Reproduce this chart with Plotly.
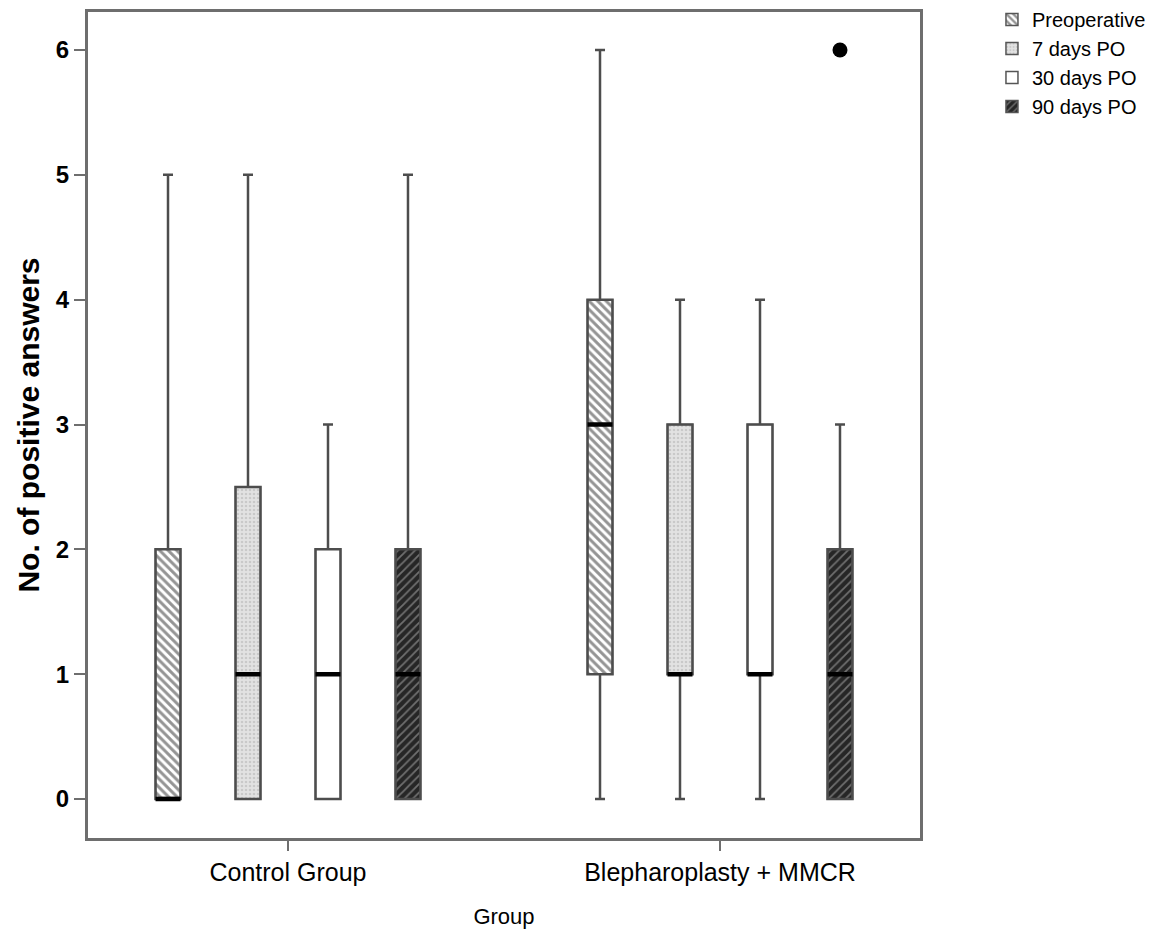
import plotly.graph_objects as go

groups = ["Control Group", "Blepharoplasty + MMCR"]
series = ["Preoperative", "7 days PO", "30 days PO", "90 days PO"]

lower = {"Preoperative": [0, 0], "7 days PO": [0, 0], "30 days PO": [0, 0], "90 days PO": [0, 0]}
q1 = {"Preoperative": [0, 1], "7 days PO": [0, 1], "30 days PO": [0, 1], "90 days PO": [0, 0]}
median = {"Preoperative": [0, 3], "7 days PO": [1, 1], "30 days PO": [1, 1], "90 days PO": [1, 1]}
q3 = {"Preoperative": [2, 4], "7 days PO": [2.5, 3], "30 days PO": [2, 3], "90 days PO": [2, 2]}
upper = {"Preoperative": [5, 6], "7 days PO": [5, 4], "30 days PO": [3, 4], "90 days PO": [5, 3]}
outliers = {"Preoperative": [[None], [None]], "7 days PO": [[None], [None]],
            "30 days PO": [[None], [None]], "90 days PO": [[None], [6]]}

styles = {
    "Preoperative": dict(color="white", shape="\\", fg="#2a2a2a", size=6, sol=0.5),
    "7 days PO": dict(color="#e2e2e2", shape=".", fg="#b0b0b0", size=4, sol=0.3),
    "30 days PO": dict(color="white", shape="", fg="white", size=6, sol=0.3),
    "90 days PO": dict(color="#262626", shape="/", fg="#b8b8b8", size=6, sol=0.3),
}

FONT = "Arial, Liberation Sans, sans-serif"
fig = go.Figure()

# patterned box bodies (also used for the legend)
for s in series:
    st = styles[s]
    fig.add_trace(go.Bar(
        x=groups, base=q1[s], y=[b - a for a, b in zip(q1[s], q3[s])],
        name=s, offsetgroup=s,
        marker=dict(color=st["color"], line=dict(width=1.5, color="#555555"),
                    pattern=dict(shape=st["shape"], fgcolor=st["fg"], bgcolor=st["color"],
                                 size=st["size"], solidity=st["sol"])),
        hoverinfo="skip", showlegend=True,
    ))

# box outlines, whiskers, outliers
for s in series:
    fig.add_trace(go.Box(
        x=groups, q1=q1[s], median=median[s], q3=q3[s],
        lowerfence=lower[s], upperfence=upper[s],
        y=outliers[s], boxpoints="outliers",
        name=s, offsetgroup=s, showlegend=False,
        fillcolor="rgba(0,0,0,0)",
        line=dict(color="#4d4d4d", width=2.5),
        whiskerwidth=0.4,
        marker=dict(color="black", size=15, symbol="circle"),
    ))

# thick black median lines on top
for s in series:
    fig.add_trace(go.Box(
        x=groups, q1=median[s], median=median[s], q3=median[s],
        lowerfence=median[s], upperfence=median[s],
        boxpoints=False, offsetgroup=s, showlegend=False, name=s + " median",
        fillcolor="rgba(0,0,0,0)", line=dict(color="black", width=4.5),
        whiskerwidth=0, hoverinfo="skip",
    ))

fig.update_layout(
    width=1148, height=921,
    margin=dict(l=80, r=236, t=4, b=91, autoexpand=False),
    paper_bgcolor="white", plot_bgcolor="white",
    barmode="group", bargap=0.2593, bargroupgap=0.6875,
    boxmode="group", boxgap=0.2593, boxgroupgap=0.6875,
    font=dict(family=FONT, color="black"),
    legend=dict(x=1.0865, y=1.0145, xanchor="left", yanchor="top",
                font=dict(size=20, family=FONT), tracegroupgap=0,
                itemwidth=30, bgcolor="rgba(0,0,0,0)"),
    xaxis=dict(type="category", range=[-0.46296, 1.46296],
               showline=True, mirror=True, linecolor="#6e6e6e", linewidth=3,
               ticks="outside", ticklen=10, tickcolor="#6e6e6e", tickwidth=2,
               tickfont=dict(size=25, family=FONT), showgrid=False, zeroline=False,
               title=dict(text="Group", font=dict(size=22, family=FONT), standoff=26)),
    yaxis=dict(range=[-0.3124, 6.3044], tickvals=[0, 1, 2, 3, 4, 5, 6],
               showline=True, mirror=True, linecolor="#6e6e6e", linewidth=3,
               ticks="outside", ticklen=11, tickcolor="#6e6e6e", tickwidth=2,
               tickfont=dict(size=24, family=FONT, weight="bold"),
               showgrid=False, zeroline=False,
               title=dict(text="<b>No. of positive answers</b>", font=dict(size=30, family=FONT), standoff=8)),
)

fig.write_html("out.html")
